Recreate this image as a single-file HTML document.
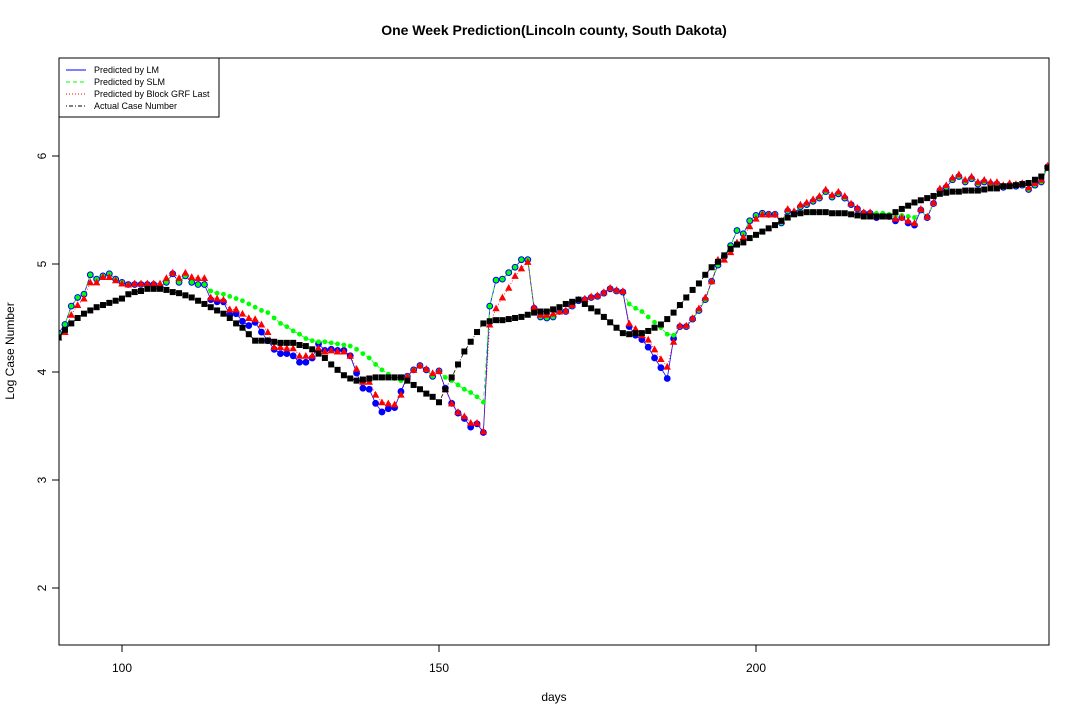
<!DOCTYPE html>
<html><head><meta charset="utf-8"><style>
body{margin:0;background:#fff;}
svg{display:block;font-family:"Liberation Sans",Arial,sans-serif;}
</style></head><body>
<svg id="chart" width="1080" height="720" viewBox="0 0 1080 720">
<rect x="0" y="0" width="1080" height="720" fill="#fff"/>
<text x="554" y="35" text-anchor="middle" font-size="14" font-weight="bold">One Week Prediction(Lincoln county, South Dakota)</text>
<text x="554" y="701" text-anchor="middle" font-size="12">days</text>
<text transform="translate(14,351) rotate(-90)" text-anchor="middle" font-size="12">Log Case Number</text>
<g id="axes"></g>
<g id="series"></g>
<rect x="59" y="58" width="990" height="587" fill="none" stroke="#000" stroke-width="1"/>
<g>
<rect x="59" y="58" width="160" height="59" fill="#fff" stroke="#000" stroke-width="1"/>
<line x1="66" y1="70" x2="86" y2="70" stroke="#0000ff"/>
<text x="94" y="73" font-size="9">Predicted by LM</text>
<line x1="66" y1="82" x2="86" y2="82" stroke="#00ff00" stroke-dasharray="4,3"/>
<text x="94" y="85" font-size="9">Predicted by SLM</text>
<line x1="66" y1="94" x2="86" y2="94" stroke="#ff0000" stroke-dasharray="1,2"/>
<text x="94" y="97" font-size="9">Predicted by Block GRF Last</text>
<line x1="66" y1="106" x2="86" y2="106" stroke="#000" stroke-dasharray="1,2,4,2"/>
<text x="94" y="109" font-size="9">Actual Case Number</text>
</g>
</svg>
<script>
const startDay = 90;
const xTicks = [100, 150, 200];
const yTicks = [2, 3, 4, 5, 6];
const actual = [4.32,4.39,4.45,4.50,4.54,4.57,4.60,4.62,4.64,4.66,
4.68,4.72,4.74,4.75,4.77,4.77,4.77,4.76,4.74,4.73,
4.71,4.69,4.66,4.63,4.60,4.57,4.54,4.50,4.45,4.41,
4.35,4.29,4.29,4.29,4.28,4.27,4.27,4.27,4.25,4.24,
4.21,4.17,4.13,4.07,4.02,3.97,3.94,3.92,3.93,3.94,
3.95,3.95,3.95,3.95,3.95,3.92,3.88,3.84,3.80,3.77,
3.72,3.84,3.95,4.07,4.19,4.28,4.37,4.45,4.47,4.48,
4.48,4.49,4.50,4.51,4.53,4.55,4.56,4.56,4.58,4.60,
4.63,4.65,4.67,4.63,4.59,4.56,4.51,4.46,4.41,4.36,
4.35,4.36,4.36,4.38,4.41,4.44,4.49,4.55,4.62,4.69,
4.76,4.82,4.90,4.97,5.02,5.08,5.14,5.18,5.20,5.24,
5.27,5.30,5.33,5.36,5.40,5.43,5.46,5.47,5.48,5.48,
5.48,5.48,5.47,5.47,5.47,5.46,5.45,5.44,5.44,5.44,
5.44,5.44,5.48,5.51,5.54,5.57,5.59,5.61,5.63,5.65,
5.66,5.67,5.67,5.68,5.68,5.68,5.69,5.70,5.70,5.72,
5.72,5.73,5.74,5.75,5.78,5.81,5.89];
const predLM = [4.36,4.44,4.61,4.69,4.72,4.90,4.86,4.89,4.91,4.86,
4.83,4.81,4.81,4.81,4.81,4.81,4.79,4.83,4.91,4.83,
4.89,4.83,4.81,4.81,4.67,4.65,4.65,4.53,4.54,4.47,
4.43,4.46,4.37,4.29,4.21,4.17,4.17,4.15,4.09,4.09,
4.13,4.26,4.20,4.21,4.20,4.20,4.15,3.99,3.85,3.84,
3.71,3.63,3.66,3.67,3.82,3.96,4.02,4.06,4.02,3.96,
4.01,3.85,3.71,3.62,3.57,3.49,3.52,3.44,4.61,4.85,
4.86,4.92,4.97,5.04,5.04,4.59,4.51,4.50,4.51,4.56,
4.56,4.61,4.66,4.67,4.69,4.70,4.73,4.77,4.75,4.74,
4.42,4.34,4.30,4.23,4.13,4.04,3.94,4.31,4.42,4.42,
4.49,4.57,4.67,4.84,4.99,5.07,5.17,5.31,5.28,5.40,
5.45,5.47,5.46,5.46,5.38,5.49,5.47,5.53,5.55,5.58,
5.61,5.67,5.62,5.65,5.61,5.55,5.51,5.47,5.47,5.43,
5.45,5.44,5.40,5.43,5.38,5.36,5.50,5.43,5.56,5.68,
5.71,5.78,5.81,5.76,5.79,5.74,5.76,5.74,5.74,5.71,
5.73,5.72,5.73,5.69,5.73,5.76,5.90];
const predSLM = [4.36,4.44,4.61,4.69,4.72,4.90,4.86,4.89,4.91,4.86,
4.83,4.81,4.81,4.81,4.81,4.81,4.79,4.83,4.91,4.83,
4.89,4.83,4.81,4.81,4.75,4.73,4.72,4.70,4.68,4.66,
4.63,4.60,4.57,4.55,4.50,4.45,4.42,4.38,4.35,4.31,
4.29,4.28,4.28,4.27,4.26,4.25,4.24,4.21,4.17,4.13,
4.07,4.02,3.98,3.94,3.92,3.96,4.02,4.06,4.02,3.96,
4.01,3.95,3.92,3.88,3.84,3.81,3.77,3.72,4.61,4.85,
4.86,4.92,4.97,5.04,5.04,4.59,4.51,4.50,4.51,4.56,
4.56,4.61,4.66,4.67,4.69,4.70,4.73,4.77,4.75,4.74,
4.63,4.59,4.56,4.51,4.46,4.41,4.35,4.34,4.42,4.42,
4.49,4.57,4.67,4.84,4.99,5.07,5.17,5.31,5.28,5.40,
5.45,5.47,5.46,5.46,5.38,5.49,5.47,5.53,5.55,5.58,
5.61,5.67,5.62,5.65,5.61,5.55,5.51,5.47,5.47,5.47,
5.47,5.46,5.44,5.45,5.44,5.43,5.50,5.43,5.56,5.68,
5.71,5.78,5.81,5.76,5.79,5.74,5.76,5.74,5.74,5.71,
5.73,5.72,5.73,5.69,5.73,5.76,5.90];
const predGRF = [4.32,4.37,4.53,4.62,4.68,4.83,4.83,4.88,4.88,4.85,
4.82,4.81,4.82,4.82,4.82,4.82,4.82,4.87,4.92,4.87,
4.92,4.88,4.87,4.87,4.69,4.68,4.67,4.58,4.58,4.54,
4.50,4.49,4.44,4.37,4.23,4.23,4.22,4.22,4.15,4.15,
4.15,4.22,4.19,4.20,4.19,4.19,4.15,4.03,3.91,3.91,
3.79,3.72,3.71,3.70,3.79,3.96,4.02,4.06,4.03,3.99,
4.01,3.84,3.71,3.63,3.59,3.53,3.53,3.45,4.44,4.59,
4.69,4.78,4.89,4.96,5.02,4.60,4.53,4.53,4.54,4.56,
4.57,4.62,4.67,4.68,4.70,4.71,4.74,4.78,4.76,4.75,
4.45,4.40,4.34,4.30,4.21,4.12,4.05,4.28,4.43,4.43,
4.50,4.59,4.69,4.84,5.04,5.04,5.11,5.20,5.25,5.35,
5.42,5.46,5.46,5.46,5.40,5.51,5.49,5.55,5.57,5.60,
5.63,5.69,5.64,5.67,5.63,5.56,5.52,5.48,5.48,5.44,
5.44,5.44,5.42,5.43,5.40,5.38,5.51,5.44,5.57,5.70,
5.73,5.80,5.83,5.78,5.81,5.76,5.78,5.76,5.76,5.73,
5.75,5.74,5.75,5.71,5.75,5.78,5.91];

const NS = "http://www.w3.org/2000/svg";
function xs(d){ return 122 + (d - 100) * 6.34; }
function ys(v){ return 156 + (6 - v) * 108; }
function mk(tag, attrs, parent){
  const e = document.createElementNS(NS, tag);
  for (const k in attrs) e.setAttribute(k, attrs[k]);
  parent.appendChild(e);
  return e;
}
const axes = document.getElementById('axes');
const series = document.getElementById('series');

xTicks.forEach(t => {
  const l = mk('line', {x1: xs(t), x2: xs(t), y1: 645, y2: 652, stroke: '#000'}, axes);
  
  
  const tx = mk('text', {x: xs(t), y: 672, 'text-anchor': 'middle', 'font-size': 12}, axes);
  tx.textContent = t;
  
  
});
yTicks.forEach(t => {
  const l = mk('line', {x1: 52, x2: 59, y1: ys(t), y2: ys(t), stroke: '#000'}, axes);
  
  
  const tx = mk('text', {'text-anchor': 'middle', 'font-size': 12, transform: 'translate(46,' + ys(t) + ') rotate(-90)'}, axes);
  tx.textContent = t;
  
  
});

function pts(arr){ return arr.map((v,i) => xs(startDay + i).toFixed(1) + ',' + ys(v).toFixed(1)).join(' '); }

const clip = mk('clipPath', {id: 'pc'}, series);
mk('rect', {x: 59, y: 58, width: 990, height: 587}, clip);
const g = mk('g', {'clip-path': 'url(#pc)'}, series);

const lLM = mk('polyline', {points: pts(predLM), fill: 'none', stroke: '#0000ff', 'stroke-width': 0.8}, g);


const lSLM = mk('polyline', {points: pts(predSLM), fill: 'none', stroke: '#00ff00', 'stroke-width': 0.8, 'stroke-dasharray': '4,3'}, g);


const lGRF = mk('polyline', {points: pts(predGRF), fill: 'none', stroke: '#ff0000', 'stroke-width': 0.8, 'stroke-dasharray': '1,2'}, g);



predLM.forEach((v,i) => {
  const c = mk('circle', {cx: xs(startDay+i), cy: ys(v), r: 3.4, fill: '#0000ff'}, g);
  
  
});
predSLM.forEach((v,i) => {
  const c = mk('circle', {cx: xs(startDay+i), cy: ys(v), r: 2.4, fill: '#00ff00'}, g);
  
  
});
predGRF.forEach((v,i) => {
  const x = xs(startDay+i), y = ys(v);
  const p = mk('polygon', {points: (x-3.7)+','+(y+3)+' '+(x+3.7)+','+(y+3)+' '+x+','+(y-3.8), fill: '#ff0000'}, g);
  
  
});
const lAct = mk('polyline', {points: pts(actual), fill: 'none', stroke: '#000', 'stroke-width': 0.8, 'stroke-dasharray': '1,2,4,2'}, g);


actual.forEach((v,i) => {
  const r = mk('rect', {x: xs(startDay+i)-3, y: ys(v)-3, width: 6, height: 6, fill: '#000'}, g);
  
  
});
</script>
</body></html>
